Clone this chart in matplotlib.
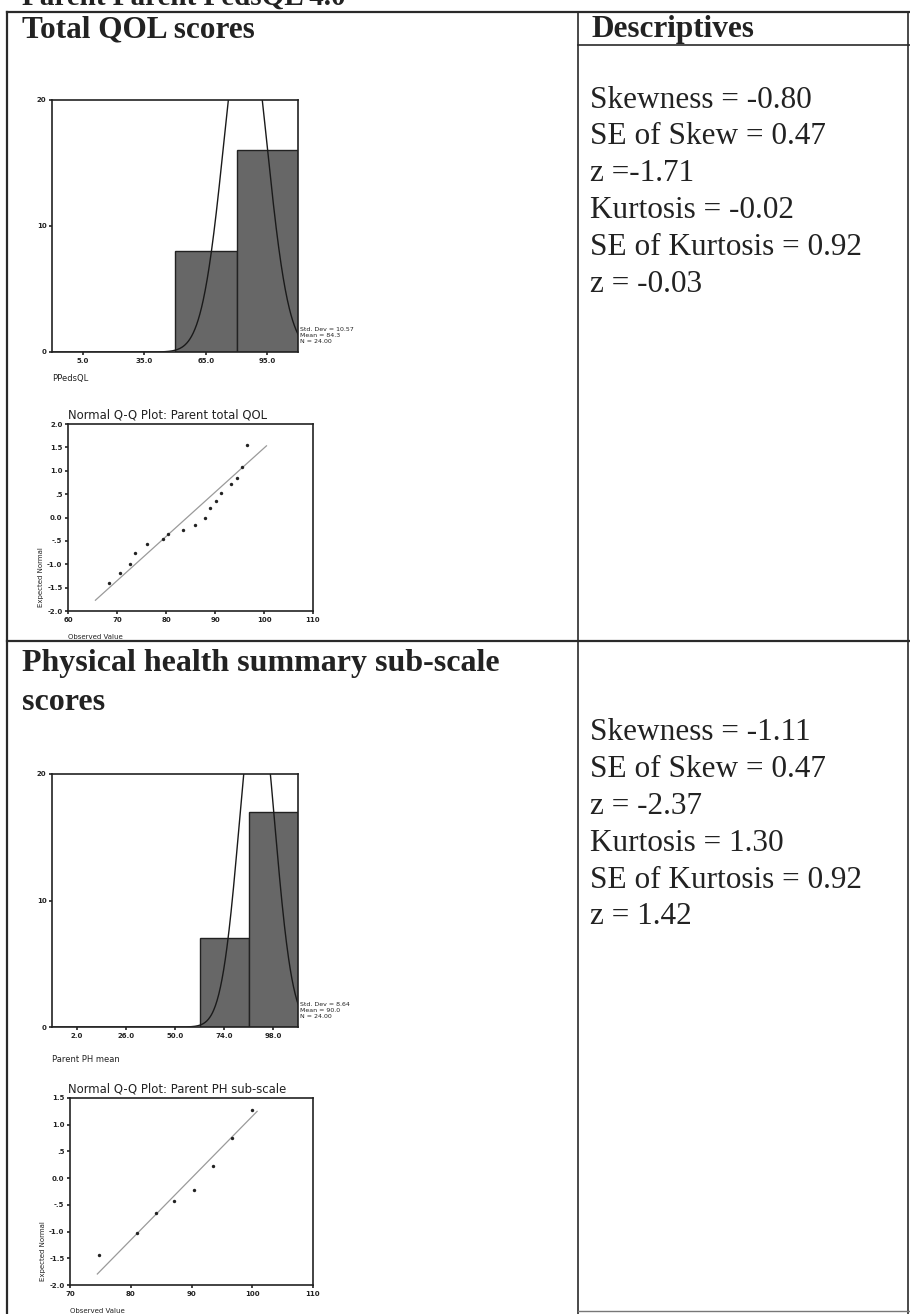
import matplotlib
matplotlib.use("Agg")
import matplotlib.pyplot as plt
import numpy as np

W, H = 910, 1314

# --- data ---
hist1_edges = [50, 80, 110]
hist1_counts = [8, 16]
hist1_mean, hist1_sd, hist1_n = 84.3, 10.57, 24
hist1_ticks = [5, 35, 65, 95]

qq1_obs = [68.4, 70.7, 72.7, 73.7, 76.1, 79.3, 80.4, 83.5, 85.9, 87.9,
           88.9, 90.3, 91.2, 93.3, 94.5, 95.6, 96.5]
qq1_exp = [-1.41, -1.18, -1.00, -0.77, -0.57, -0.46, -0.36, -0.26, -0.15, 0.00,
           0.21, 0.36, 0.52, 0.71, 0.84, 1.09, 1.55]
qq1_line_x = [65.6, 100.5]

hist2_edges = [62, 86, 110]
hist2_counts = [7, 17]
hist2_mean, hist2_sd, hist2_n = 90.0, 8.64, 24
hist2_ticks = [2, 26, 50, 74, 98]

qq2_obs = [74.8, 81.1, 84.2, 87.1, 90.4, 93.6, 96.6, 99.9]
qq2_exp = [-1.44, -1.03, -0.66, -0.43, -0.22, 0.23, 0.76, 1.28]
qq2_line_x = [74.5, 100.8]

desc1 = ["Skewness = -0.80", "SE of Skew = 0.47", "z =-1.71",
         "Kurtosis = -0.02", "SE of Kurtosis = 0.92", "z = -0.03"]
desc2 = ["Skewness = -1.11", "SE of Skew = 0.47", "z = -2.37",
         "Kurtosis = 1.30", "SE of Kurtosis = 0.92", "z = 1.42"]

SERIF = ["Liberation Serif", "DejaVu Serif"]
SANS = ["DejaVu Sans"]
INK = "#222222"

fig = plt.figure(figsize=(W / 100, H / 100), dpi=100)
fig.patch.set_facecolor("white")

# page overlay in pixel coordinates
page = fig.add_axes([0, 0, 1, 1])
page.set_xlim(0, W)
page.set_ylim(H, 0)
page.axis("off")

lc = "#2a2a2a"
page.plot([7, 910], [12, 12], color=lc, lw=1.6)
page.plot([7, 7], [12, H], color=lc, lw=1.6)
page.plot([578, 578], [12, H], color=lc, lw=1.2)
page.plot([908, 908], [12, H], color=lc, lw=1.2)
page.plot([578, 910], [45, 45], color=lc, lw=1.2)
page.plot([7, 910], [641, 641], color=lc, lw=1.6)
page.plot([578, 910], [1311, 1311], color="#777777", lw=1.0)

# page heading, cut by the scan at the top edge
page.text(22, -3, "Parent Parent PedsQL 4.0", fontsize=21, fontweight="bold",
          family=SERIF, va="center", ha="left", color=INK)
page.text(22, 30, "Total QOL scores", fontsize=22.5, fontweight="bold",
          family=SERIF, va="center", ha="left", color=INK)
page.text(591, 30, "Descriptives", fontsize=22.5, fontweight="bold",
          family=SERIF, va="center", ha="left", color=INK)
page.text(22, 664, "Physical health summary sub-scale", fontsize=23,
          fontweight="bold", family=SERIF, va="center", ha="left", color=INK)
page.text(22, 703, "scores", fontsize=23, fontweight="bold",
          family=SERIF, va="center", ha="left", color=INK)

for i, s in enumerate(desc1):
    page.text(590, 100 + i * 36.8, s, fontsize=22.5, family=SERIF,
              va="center", ha="left", color=INK)
for i, s in enumerate(desc2):
    page.text(590, 733 + i * 36.8, s, fontsize=22.5, family=SERIF,
              va="center", ha="left", color=INK)


def px_axes(l, t, r, b):
    return fig.add_axes([l / W, 1 - b / H, (r - l) / W, (b - t) / H])


def style(ax):
    for sp in ax.spines.values():
        sp.set_linewidth(1.2)
        sp.set_color(INK)
    ax.tick_params(labelsize=5, length=2, width=1.2, pad=2, colors=INK)
    for lab in ax.get_xticklabels() + ax.get_yticklabels():
        lab.set_family(SANS)
        lab.set_fontweight("bold")


def histogram(ax, edges, counts, mean, sd, n, ticks, xlabel, label_y):
    edges = np.array(edges, dtype=float)
    bw = edges[1] - edges[0]
    ax.bar(edges[:-1], counts, width=bw, align="edge", color="#676767",
           edgecolor=INK, linewidth=1.0)
    xs = np.linspace(-10, 110, 600)
    ys = n * bw / (sd * np.sqrt(2 * np.pi)) * np.exp(-0.5 * ((xs - mean) / sd) ** 2)
    ax.plot(xs, ys, color="#1a1a1a", lw=1.0)
    ax.set_xlim(-10, 110)
    ax.set_ylim(0, 20)
    ax.set_yticks([0, 10, 20])
    ax.set_yticklabels(["0", "10", "20"])
    ax.set_xticks(ticks)
    ax.set_xticklabels([f"{t:.1f}" for t in ticks])
    style(ax)
    ax.text(1.01, 0.03, f"Std. Dev = {sd:.2f}\nMean = {mean:.1f}\nN = {n:.2f}",
            transform=ax.transAxes, fontsize=4.5, family=SANS, va="bottom",
            ha="left", linespacing=1.3, color=INK)
    ax.text(0.0, label_y, xlabel, transform=ax.transAxes, fontsize=6,
            family=SANS, va="center", ha="left", color=INK)


def qq_label(v):
    if abs(v) == 0.5:
        return "-.5" if v < 0 else ".5"
    return f"{v:.1f}"


def qqplot(ax, obs, exp, line_x, mean, sd, xlim, ylim, yticks, title, title_x):
    line_x = np.array(line_x)
    ax.plot(line_x, (line_x - mean) / sd, color="#9a9a9a", lw=0.9)
    ax.scatter(obs, exp, s=6, color=INK, zorder=3, linewidths=0)
    ax.set_xlim(*xlim)
    ax.set_ylim(*ylim)
    ax.set_xticks(np.arange(xlim[0], xlim[1] + 1, 10))
    ax.set_yticks(yticks)
    ax.set_yticklabels([qq_label(v) for v in yticks])
    style(ax)
    ax.set_title(title, fontsize=8.4, family=SANS, pad=4, color=INK, x=title_x)
    ax.set_ylabel("Expected Normal", fontsize=5, family=SANS, labelpad=1,
                  color=INK)
    ax.yaxis.set_label_coords(-0.1, 0.18)
    ax.text(0.0, -0.14, "Observed Value", transform=ax.transAxes, fontsize=5,
            family=SANS, va="center", ha="left", color=INK)


h1 = px_axes(52, 100, 298, 352)
histogram(h1, hist1_edges, hist1_counts, hist1_mean, hist1_sd, hist1_n,
          hist1_ticks, "PPedsQL", -0.105)

q1 = px_axes(68, 424, 313, 611)
qqplot(q1, qq1_obs, qq1_exp, qq1_line_x, hist1_mean, hist1_sd, (60, 110),
       (-2.0, 2.0), [-2.0, -1.5, -1.0, -0.5, 0.0, 0.5, 1.0, 1.5, 2.0],
       "Normal Q-Q Plot: Parent total QOL", 0.405)

h2 = px_axes(52, 774, 298, 1027)
histogram(h2, hist2_edges, hist2_counts, hist2_mean, hist2_sd, hist2_n,
          hist2_ticks, "Parent PH mean", -0.13)

q2 = px_axes(70, 1098, 313, 1285)
qqplot(q2, qq2_obs, qq2_exp, qq2_line_x, hist2_mean, hist2_sd, (70, 110),
       (-2.0, 1.5), [-2.0, -1.5, -1.0, -0.5, 0.0, 0.5, 1.0, 1.5],
       "Normal Q-Q Plot: Parent PH sub-scale", 0.44)

fig.savefig("out.png", dpi=100, facecolor="white")
